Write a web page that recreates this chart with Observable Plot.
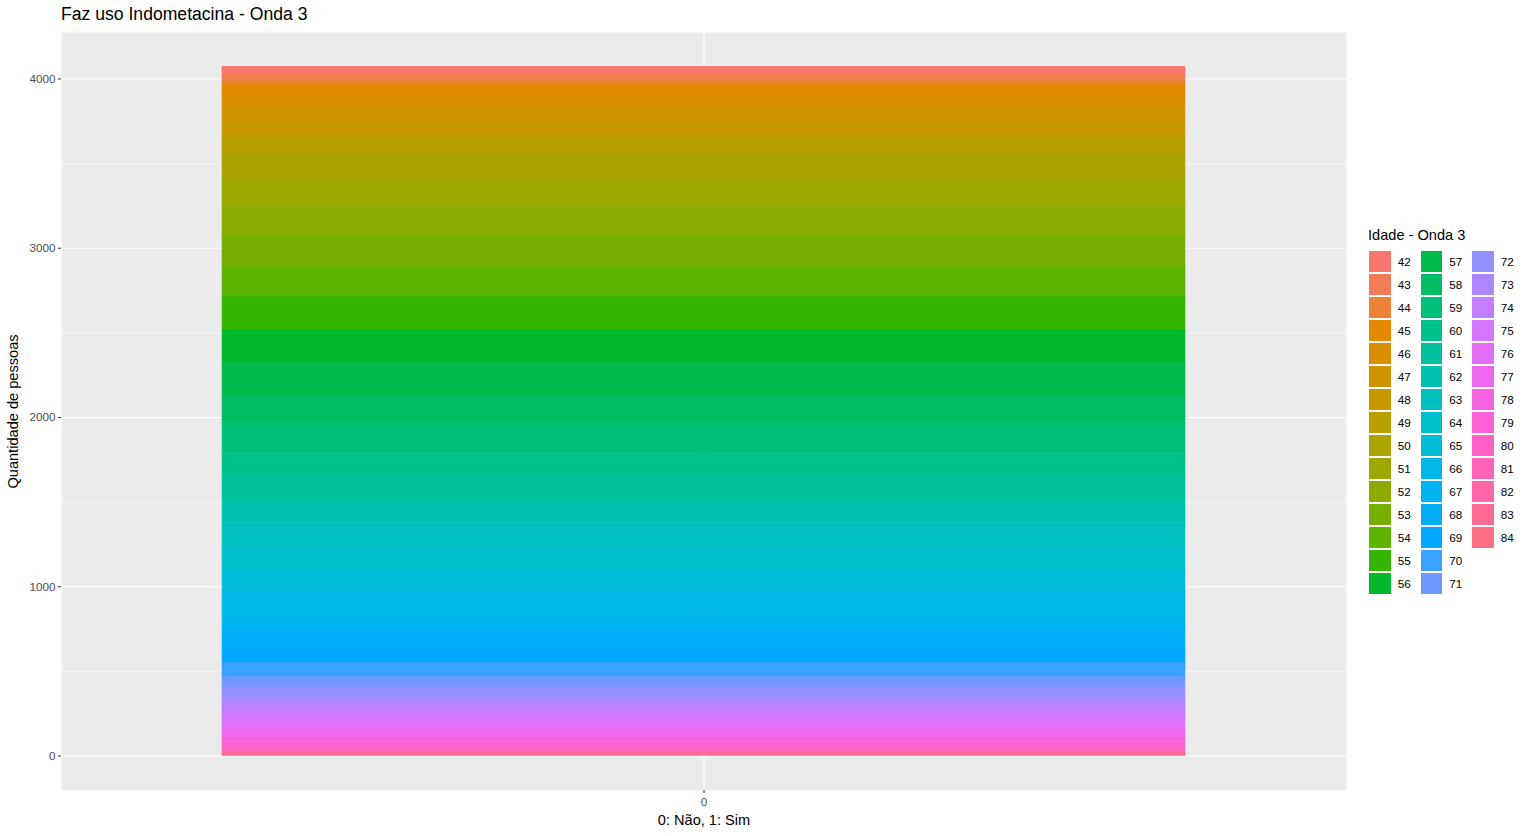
<!DOCTYPE html>
<html>
<head>
<meta charset="utf-8">
<script src="https://cdn.jsdelivr.net/npm/d3@7"></script>
<script src="https://cdn.jsdelivr.net/npm/@observablehq/plot@0.6"></script>
<style>
  html, body { margin: 0; padding: 0; background: white; }
  #wrap { position: relative; width: 1530px; height: 836px; overflow: hidden; font-family: "Liberation Sans", Arial, sans-serif; }
  #title { position: absolute; left: 61px; top: 4px; font-size: 17.6px; color: #000; white-space: nowrap; }
  #chart { position: absolute; left: 0; top: 0; }
  #legend { position: absolute; left: 0; top: 0; }
  .ltitle { position: absolute; left: 1368px; top: 227px; font-size: 14.6px; white-space: nowrap; }
  .key { position: absolute; width: 21.5px; height: 21.5px; }
  .klab { position: absolute; font-size: 11.7px; line-height: 21.5px; white-space: nowrap; color: #000; }
</style>
</head>
<body>
<div id="wrap">
  <div id="chart"></div>
  <div id="title">Faz uso Indometacina - Onda 3</div>
  <div id="legend"></div>
</div>
<script>
// ---- data ----
const titleText = "Faz uso Indometacina - Onda 3";
const categories = ["0"];
const ages = [42,43,44,45,46,47,48,49,50,51,52,53,54,55,56,57,58,59,60,61,62,63,64,65,66,67,68,69,70,71,72,73,74,75,76,77,78,79,80,81,82,83,84];
const counts = [45,29,29,57,79,94,78,102,147,167,173,177,181,196,196,193,167,177,137,143,127,141,134,137,138,88,108,82,84,59,63,45,53,45,49,39,34,24,18,14,10,7,5];
const yTicks = [0, 1000, 2000, 3000, 4000];
const yMinor = [500, 1500, 2500, 3500];
const xLabel = "0: Não, 1: Sim";
const yLabel = "Quantidade de pessoas";
const legendTitle = "Idade - Onda 3";

// ---- ggplot-like hue palette (polar LUV) ----
function hclHex(h, c, l) {
  const hr = h * Math.PI / 180;
  const U = c * Math.cos(hr), V = c * Math.sin(hr);
  const Xn = 95.047, Yn = 100, Zn = 108.883;
  const den = Xn + 15 * Yn + 3 * Zn;
  const un = 4 * Xn / den, vn = 9 * Yn / den;
  const Y = l > 7.999592 ? Yn * Math.pow((l + 16) / 116, 3) : Yn * l / 903.3;
  const u = U / (13 * l) + un, v = V / (13 * l) + vn;
  const X = 9 * Y * u / (4 * v);
  const Z = Y * (12 - 3 * u - 20 * v) / (4 * v);
  const x = X / 100, y = Y / 100, z = Z / 100;
  const lin = [
    3.240479 * x - 1.537150 * y - 0.498535 * z,
    -0.969256 * x + 1.875992 * y + 0.041556 * z,
    0.055648 * x - 0.204043 * y + 1.057311 * z
  ];
  const g = lin.map(t => {
    let s = t <= 0.0031308 ? 12.92 * t : 1.055 * Math.pow(t, 1 / 2.4) - 0.055;
    s = Math.max(0, Math.min(1, s));
    return Math.round(s * 255);
  });
  return "#" + g.map(k => k.toString(16).padStart(2, "0")).join("");
}
const n = ages.length;
const colors = ages.map((a, i) => hclHex(15 + 360 * i / n, 100, 65));

const data = ages.map((a, i) => ({resposta: categories[0], idade: String(a), n: counts[i]}));
const total = d3.sum(counts);

const plot = Plot.plot({
  width: 1355,
  height: 836,
  marginTop: 32,
  marginBottom: 46,
  marginLeft: 61,
  marginRight: 9,
  style: {fontFamily: "Liberation Sans, Arial, sans-serif", background: "transparent"},
  x: {type: "band", domain: categories, paddingInner: 0.1, paddingOuter: 0.15, label: null},
  y: {domain: [-0.05 * total, 1.05 * total], label: null},
  color: {type: "ordinal", domain: ages.map(String), range: colors},
  marks: [
    Plot.frame({fill: "#EBEBEB", stroke: "none"}),
    Plot.ruleY(yMinor, {stroke: "white", strokeWidth: 0.55}),
    Plot.ruleY(yTicks, {stroke: "white", strokeWidth: 1.1}),
    Plot.ruleX(categories, {stroke: "white", strokeWidth: 1.1}),
    Plot.barY(data, Plot.stackY({x: "resposta", y: "n", fill: "idade", stroke: "idade", strokeWidth: 0.6, reverse: true})),
    Plot.axisY({ticks: yTicks, tickSize: 3, tickPadding: 3, tickFormat: d => String(d), fontSize: 11.7, fill: "#4D4D4D", stroke: "#333333", label: null}),
    Plot.axisX({tickSize: 3, tickPadding: 4, fontSize: 11.7, fill: "#4D4D4D", stroke: "#333333", label: null}),
    Plot.text([xLabel], {frameAnchor: "bottom", dy: 30, text: d => d, fontSize: 14.6, fill: "black", lineAnchor: "middle"}),
    Plot.text([yLabel], {frameAnchor: "left", dx: -48, rotate: -90, text: d => d, fontSize: 14.6, fill: "black", lineAnchor: "middle", textAnchor: "middle"})
  ]
});
document.getElementById("chart").appendChild(plot);

// ---- legend ----
const leg = document.getElementById("legend");
const lt = document.createElement("div");
lt.className = "ltitle";
lt.textContent = legendTitle;
leg.appendChild(lt);
const colorScale = plot.scale("color");
ages.forEach((a, i) => {
  const col = Math.floor(i / 15), row = i % 15;
  const left = 1369 + col * 51.5, top = 250.7 + row * 23;
  const k = document.createElement("div");
  k.className = "key";
  k.style.left = left + "px";
  k.style.top = top + "px";
  k.style.background = colorScale.apply(String(a));
  leg.appendChild(k);
  const t = document.createElement("div");
  t.className = "klab";
  t.style.left = (left + 28.7) + "px";
  t.style.top = top + "px";
  t.textContent = String(a);
  leg.appendChild(t);
});
</script>
</body>
</html>
